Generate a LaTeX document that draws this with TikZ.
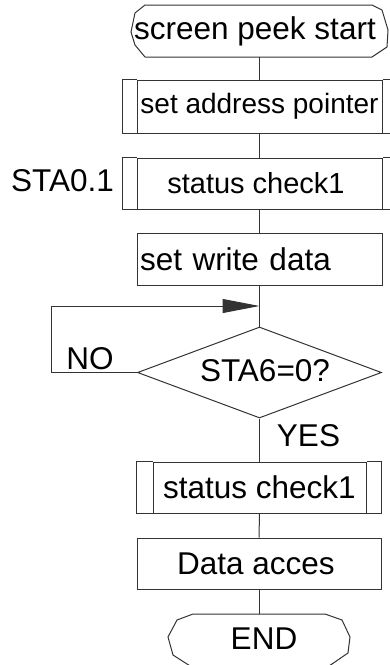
\documentclass[tikz,border=0pt]{standalone}
\usepackage{fontspec}
\setmainfont{Liberation Sans}
\usetikzlibrary{shapes.geometric,arrows.meta}
\begin{document}
\begin{tikzpicture}[x=1pt,y=-1pt,
  ln/.style={line width=1pt, draw=black!80},
  proc/.style={ln, rectangle, inner sep=0pt},
  big/.style={font=\fontsize{31.5}{36}\selectfont, inner sep=0pt},
]
\useasboundingbox (0,0) rectangle (389,665);

% start terminal
\node[inner sep=0pt, minimum width=259pt, minimum height=52pt] (st) at (259.5,31) {};
\draw[ln] (145,5) -- (372,5) -- (382,10) -- (388,30) -- (387,47) -- (372,57) -- (145,57) -- (135,45) -- (131,32) -- (135,13) -- cycle;
\node[big] (sttxt) at (255,31) {screen peek start};

% set address pointer
\node[proc, minimum width=245pt, minimum height=53pt, font=\fontsize{28}{32}\selectfont] (b1) at (259.5,106.5) {set address pointer};
\draw[ln] (b1.north west) -- ++(-14,0) |- (b1.south west);
\draw[ln] (b1.north east) -- ++(14,0) |- (b1.south east);

% status check1 (1)
\node[proc, minimum width=245pt, minimum height=51pt] (b2) at (259.5,183.5) {};
\node[font=\fontsize{29}{33}\selectfont, inner sep=0pt] (b2txt) at (256,183.5) {status check1};
\draw[ln] (b2.north west) -- ++(-14,0) |- (b2.south west);
\draw[ln] (b2.north east) -- ++(14,0) |- (b2.south east);
\node[big] (sta) at (62.5,181) {STA0.1};

% set write data
\node[ln, rectangle, inner xsep=3pt, inner ysep=0pt, text width=239pt, align=left, minimum height=52pt, font=\fontsize{31.5}{36}\selectfont] (b3) at (259.5,259) {set write data};

% decision
\node[ln, diamond, inner sep=0pt, minimum width=244pt, minimum height=91pt] (dia) at (259.5,372.5) {};
\node[big] (diatxt) at (265,371) {STA6=0?};
\node[big] (no) at (90,359) {NO};
\node[big] (yes) at (308.5,436) {YES};
\coordinate (lp) at (51,306);

% status check1 (2)
\node[proc, minimum width=213pt, minimum height=51pt, font=\fontsize{31.5}{36}\selectfont] (b4) at (259.5,487.5) {status check1};
\draw[ln] (b4.north west) -- ++(-16,0) |- (b4.south west);
\draw[ln] (b4.north east) -- ++(15,0) |- (b4.south east);

% Data acces
\node[proc, minimum width=244pt, minimum height=51pt] (b5) at (259,563.5) {};
\node[big] (b5txt) at (256,563.5) {Data acces};

% END terminal
\node[inner sep=0pt, minimum width=182pt, minimum height=52pt] (en) at (259,640) {};
\draw[ln] (193,614) -- (325,614) -- (342,620) -- (350,637) -- (348,653) -- (332,664) -- (320,672) -- (200,672) -- (187,664) -- (173,655) -- (168,637) -- (177,620) -- cycle;
\node[big] (entxt) at (264,639) {END};

% connectors
\draw[ln] (st.south) -- (b1.north);
\draw[ln] (b1.south) -- (b2.north);
\draw[ln] (b2.south) -- (b3.north);
\draw[ln] (b3.south) -- (dia.north);
\draw[ln] (dia.south) -- (b4.north);
\draw[ln] (b4.south) -- (b5.north);
\draw[ln] (b5.south) -- (en.north);
\draw[ln, -{Triangle[length=37pt,width=14pt]}] (dia.west) -| (lp) -- (lp -| dia.north);
\end{tikzpicture}
\end{document}
